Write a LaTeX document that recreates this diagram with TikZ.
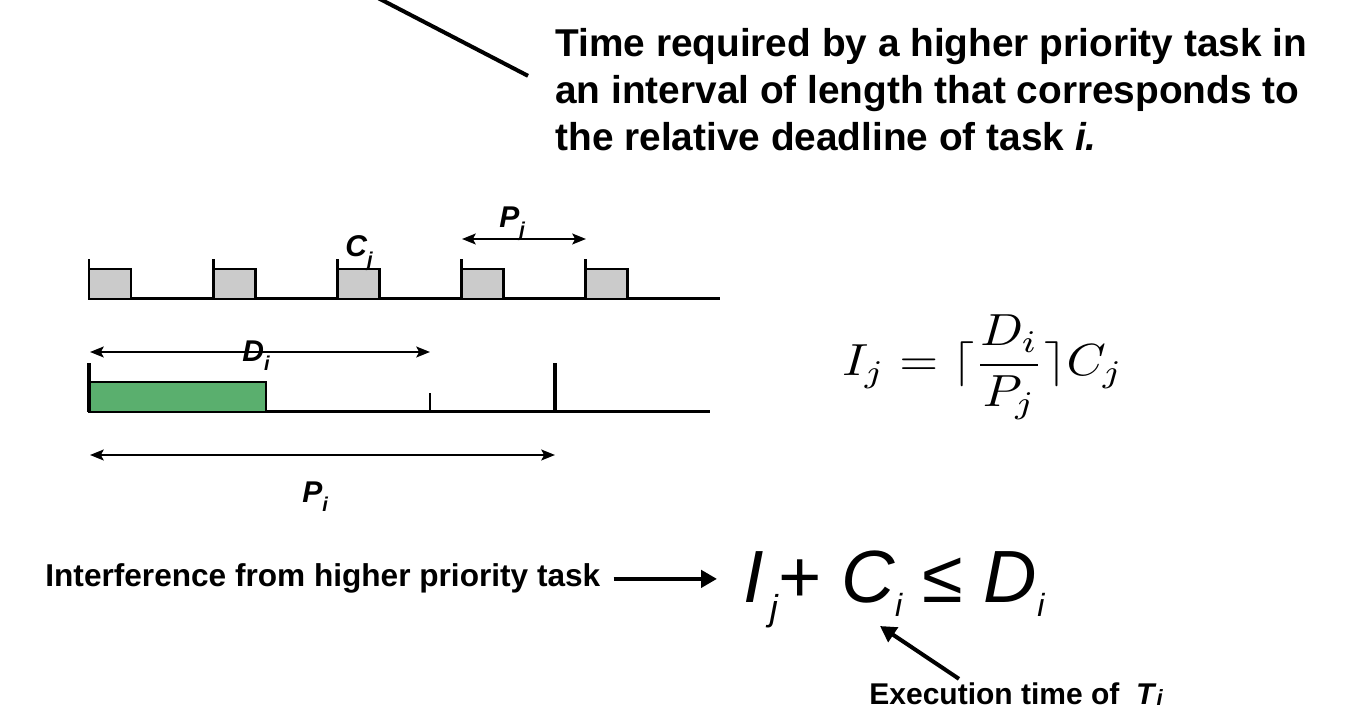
\documentclass[tikz,border=0pt]{standalone}
\usepackage{fontspec}
\usepackage{amsmath}
\newfontfamily\arial{Liberation Sans}
\usetikzlibrary{arrows.meta,positioning}
\definecolor{jobgray}{HTML}{CBCBCB}
\definecolor{taskgreen}{HTML}{5AAF6E}
\newcommand{\lowsub}[3][10]{\raisebox{-#3}{\fontsize{#1}{#1}\selectfont #2}}

\begin{document}
\begin{tikzpicture}[
  x=0.5pt, y=-0.5pt,
  head/.style={font=\arial\bfseries\fontsize{19.4}{23.6}\selectfont, align=left, inner sep=0pt, anchor=north west},
  txt/.style={font=\arial\bfseries\fontsize{15.8}{18}\selectfont, inner sep=0pt, anchor=base west},
  lbl/.style={font=\arial\bfseries\itshape\fontsize{15}{17}\selectfont, inner sep=0pt, anchor=base west},
  axis/.style={line width=1.5pt},
  job/.style={draw, line width=1.4pt, fill=jobgray},
  span/.style={{Stealth[length=2.4mm,width=1.9mm,inset=0.5mm]}-{Stealth[length=2.4mm,width=1.9mm,inset=0.5mm]}, line width=1.2pt},
  arrow/.style={-{Triangle[length=2.8mm,width=3mm]}, line width=2pt}
]
\useasboundingbox (0,0) rectangle (1362,715);

% heading and leader line
\node[head] (head) at (555,28) {Time required by a higher priority task in\\an interval of length that corresponds to\\the relative deadline of task \textit{i.}};
\coordinate (leadtop) at (378,-2);
\draw[line width=2pt] (leadtop) -- ([xshift=-13.5pt,yshift=7pt]head.west);

% higher priority task j
\draw[axis] (89,299) -- (720,299);
\foreach \k in {0,...,4} {
  \draw[job] (89+124.2*\k,299) rectangle ++(42,-30);
  \draw[line width=1.4pt] (89+124.2*\k,299) -- ++(0,-40);
}
\node[lbl] (cj) at (345,257) {C\lowsub{j}{5pt}};
\coordinate (pja) at (462,239);
\coordinate (pjb) at (586,239);
\draw[span] (pja) -- (pjb);
\node[lbl] (pj) at (499,228) {P\lowsub{j}{4.5pt}};

% task i
\coordinate (dia) at (90,352);
\coordinate (dib) at (430,352);
\draw[span] (dia) -- (dib);
\node[lbl] (di) at (242,362) {D\lowsub{i}{4.5pt}};
\draw[axis] (89,412) -- (710,412);
\draw[job, fill=taskgreen] (89,412) rectangle (266,382);
\draw[line width=1.6pt] (89,412) -- (89,363);
\draw[line width=1.2pt] (430,412) -- (430,393);
\draw[line width=1.6pt] (555,412) -- (555,363);
\coordinate (pia) at (90,455);
\coordinate (pib) at (555,455);
\draw[span] (pia) -- (pib);
\node[lbl] (pi) at (302,503) {P\lowsub{i}{4.5pt}};

% interference
\node[anchor=base west, inner sep=0pt] (ij) at (842,376) {\scalebox{2.5}[2.25]{$\displaystyle I_j = \lceil\frac{D_i}{P_j}\rceil C_j$}};

% test
\node[txt] (intf) at (45,587) {Interference from higher priority task};
\node[anchor=base west, inner sep=0pt, font=\arial\itshape\fontsize{37}{40}\selectfont] (ineq) at (743,603)
  {I\hspace{3pt}\lowsub[18]{j}{9pt}+ C\lowsub[16]{i}{7pt} ≤ D\lowsub[16]{i}{7pt}};
\draw[arrow, shorten <=6.5pt, shorten >=13pt] (intf.east) -- (intf.east -| ineq.west);
\node[txt, font=\arial\bfseries\fontsize{15}{18}\selectfont] (exec) at (869,705) {Execution time of\ \ \textit{T}\lowsub[11]{\textit{i}}{0.5pt}};
\coordinate (ci) at (880,626);
\draw[arrow] ([xshift=45pt,yshift=2pt]exec.north west) -- (ci);
\end{tikzpicture}
\end{document}
